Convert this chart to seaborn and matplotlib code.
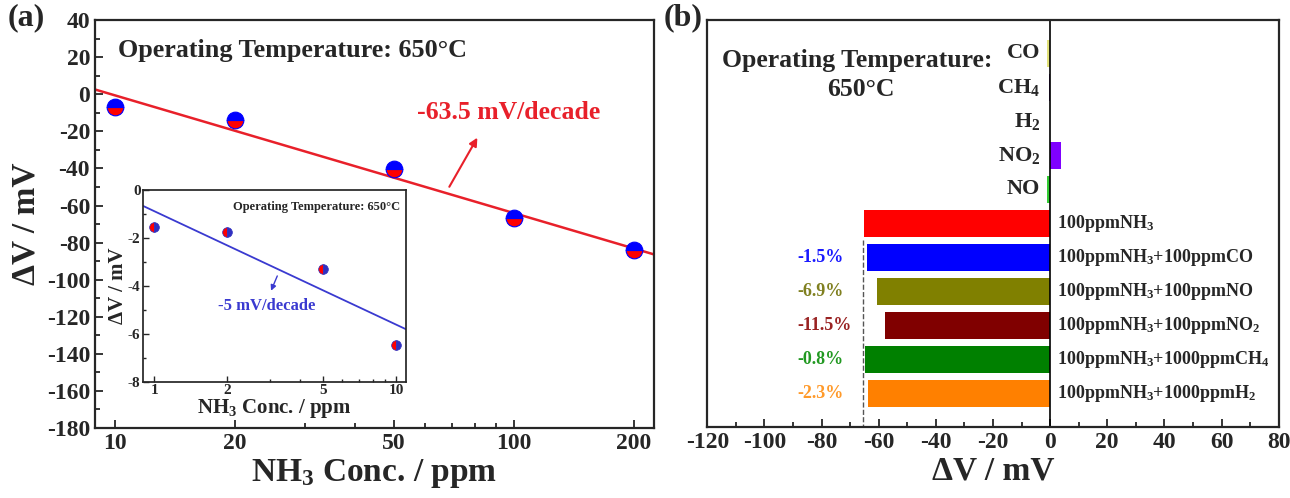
import numpy as np
import pandas as pd
import matplotlib
matplotlib.use("Agg")
import matplotlib.pyplot as plt
import seaborn as sns
from matplotlib.ticker import FixedLocator, NullFormatter, MultipleLocator

# (a) NH3 response, 10-200 ppm
conc_hi = [10, 20, 50, 100, 200]
dv_hi = [-6.6, -13.7, -40.5, -66.8, -83.8]
fit_hi_x = [8.92, 224]
fit_hi_y = [2.6, -86.3]

# inset, 1-10 ppm
conc_lo = [1, 2, 5, 10]
dv_lo = [-1.56, -1.77, -3.28, -6.47]
fit_lo_x = [0.9, 11.0]
fit_lo_y = [-0.67, -5.81]

# (b) selectivity
gases = ["CO", "CH4", "H2", "NO2", "NO", "NH3", "NH3+CO", "NH3+NO",
         "NH3+NO2", "NH3+CH4", "NH3+H2"]
gas_dv = [-1.2, -0.3, 0.0, 3.8, -1.2, -65.2, -64.2, -60.7, -57.7, -64.7, -63.7]
gas_colors = ["#e2e27a", "#5a2a8a", "#b0b0b0", "#7f00ff", "#33cc33", "#ff0000",
              "#0000ff", "#808000", "#800000", "#008000", "#ff8000"]
gas_labels = ["CO", r"CH$_{4}$", r"H$_{2}$", r"NO$_{2}$", "NO",
              r"100ppmNH$_{3}$", r"100ppmNH$_{3}$+100ppmCO", r"100ppmNH$_{3}$+100ppmNO",
              r"100ppmNH$_{3}$+100ppmNO$_{2}$", r"100ppmNH$_{3}$+1000ppmCH$_{4}$",
              r"100ppmNH$_{3}$+1000ppmH$_{2}$"]
pct_labels = ["", "", "", "", "", "", "-1.5%", "-6.9%", "-11.5%", "-0.8%", "-2.3%"]
pct_colors = ["", "", "", "", "", "", "#1a1aff", "#808020", "#992222", "#229922", "#ff9a2a"]

sns.set_theme(style="ticks")
plt.rcParams["font.family"] = ["Liberation Serif", "DejaVu Serif"]
plt.rcParams["font.weight"] = "bold"
plt.rcParams["axes.labelweight"] = "bold"
plt.rcParams["mathtext.fontset"] = "custom"
plt.rcParams["mathtext.rm"] = "Liberation Serif:bold"
plt.rcParams["mathtext.bf"] = "Liberation Serif:bold"
plt.rcParams["mathtext.default"] = "bf"
plt.rcParams["axes.unicode_minus"] = False

fig = plt.figure(figsize=(12.9, 4.98), dpi=100)
ax = fig.add_axes([0.0736, 0.1406, 0.433, 0.819])
axb = fig.add_axes([0.5483, 0.1432, 0.4429, 0.8166])
axi = fig.add_axes([0.1111, 0.2335, 0.2036, 0.385])

# ---- (a)
sns.lineplot(x=fit_hi_x, y=fit_hi_y, ax=ax, color="#e8202a", lw=1.8)
ax.plot(conc_hi, dv_hi, "o", ls="none", ms=12, fillstyle="bottom",
        markerfacecolor="red", markerfacecoloralt="blue",
        markeredgecolor="blue", mew=0.8)
ax.set_xscale("log")
ax.set_xlim(8.92, 224)
ax.set_ylim(-180, 40)
ax.xaxis.set_major_locator(FixedLocator([10, 20, 50, 100, 200]))
ax.set_xticklabels(["10", "20", "50", "100", "200"])
ax.xaxis.set_minor_locator(FixedLocator([30, 40, 60, 70, 80, 90]))
ax.xaxis.set_minor_formatter(NullFormatter())
ax.yaxis.set_major_locator(MultipleLocator(20))
ax.yaxis.set_minor_locator(MultipleLocator(10))
ax.tick_params(which="both", direction="in", labelsize=17, width=1.3)
ax.tick_params(which="major", length=6)
ax.tick_params(which="minor", length=3.5)
ax.set_xlabel(r"NH$_{3}$ Conc. / ppm", fontsize=24, labelpad=2)
ax.set_ylabel("ΔV / mV", fontsize=24, labelpad=4)
for s in ax.spines.values():
    s.set_linewidth(1.6)
ax.text(10.2, 23.7, "Operating Temperature: 650°C", fontsize=18.8, va="center")
ax.annotate("", xy=(81.7, -22.1), xytext=(68.4, -51.2),
            arrowprops=dict(arrowstyle="-|>", color="#e8202a", lw=1.5))
ax.text(97, -10, "-63.5 mV/decade", color="#e8202a", fontsize=18.5, ha="center", va="center")

# ---- inset
sns.lineplot(x=fit_lo_x, y=fit_lo_y, ax=axi, color="#3a3ad0", lw=1.3)
axi.plot(conc_lo, dv_lo, "o", ls="none", ms=7, fillstyle="left",
         markerfacecolor="red", markerfacecoloralt="#3030c0",
         markeredgecolor="#3030c0", mew=0.5)
axi.set_xscale("log")
axi.set_xlim(0.9, 11.0)
axi.set_ylim(-8, 0)
axi.xaxis.set_major_locator(FixedLocator([1, 2, 5, 10]))
axi.set_xticklabels(["1", "2", "5", "10"])
axi.xaxis.set_minor_locator(FixedLocator([3, 4, 6, 7, 8, 9]))
axi.xaxis.set_minor_formatter(NullFormatter())
axi.yaxis.set_major_locator(MultipleLocator(2))
axi.yaxis.set_minor_locator(MultipleLocator(1))
axi.tick_params(which="both", direction="in", labelsize=11, width=1)
axi.tick_params(which="major", length=4, pad=2)
axi.tick_params(which="minor", length=2)
axi.set_xlabel(r"NH$_{3}$ Conc. / ppm", fontsize=15, labelpad=0)
axi.set_ylabel("ΔV / mV", fontsize=15, labelpad=0)
axi.text(10.4, -0.72, "Operating Temperature: 650°C", fontsize=9, ha="right", va="center")
axi.annotate("", xy=(3.01, -4.31), xytext=(3.26, -3.48),
             arrowprops=dict(arrowstyle="-|>", color="#3a3ad0", lw=1.0, mutation_scale=8))
axi.text(2.92, -4.84, "-5 mV/decade", color="#3a3ad0", fontsize=12, ha="center", va="center")

# ---- (b)
df = pd.DataFrame({"gas": gases, "dv": gas_dv})
sns.barplot(data=df, x="dv", y="gas", hue="gas", palette=dict(zip(gases, gas_colors)),
            orient="h", width=0.8, saturation=1, legend=False, linewidth=0, ax=axb)
axb.set_xlim(-120, 80)
axb.set_ylim(10.98, -0.98)
axb.set_yticks([])
axb.set_ylabel("")
axb.axvline(0, color="black", lw=1.2)
axb.vlines(-65.5, 5.5, 10.98, colors="#555555", linestyles="--", lw=1.0)
axb.xaxis.set_major_locator(MultipleLocator(20))
axb.xaxis.set_minor_locator(MultipleLocator(10))
axb.tick_params(which="both", direction="in", labelsize=17, width=1.3)
axb.tick_params(which="major", length=6)
axb.tick_params(which="minor", length=3.5)
axb.set_xlabel("ΔV / mV", fontsize=24, labelpad=2)
for s in axb.spines.values():
    s.set_linewidth(1.6)
for i, lab in enumerate(gas_labels):
    if i < 5:
        axb.text(-3.5, i, lab, fontsize=16, ha="right", va="center")
    else:
        axb.text(2.5, i, lab, fontsize=13, ha="left", va="center")
    if pct_labels[i]:
        axb.text(-88.5, i, pct_labels[i], color=pct_colors[i], fontsize=13,
                 ha="left", va="center")
axb.text(-114.9, 0.2, "Operating Temperature:", fontsize=18.5, ha="left", va="center")
axb.text(-66.3, 1.06, "650°C", fontsize=18.5, ha="center", va="center")

fig.text(8 / 1290, 1 - 18 / 498, "(a)", fontsize=23, va="center")
fig.text(664 / 1290, 1 - 18 / 498, "(b)", fontsize=23, va="center")

fig.savefig("out.png", dpi=100)
